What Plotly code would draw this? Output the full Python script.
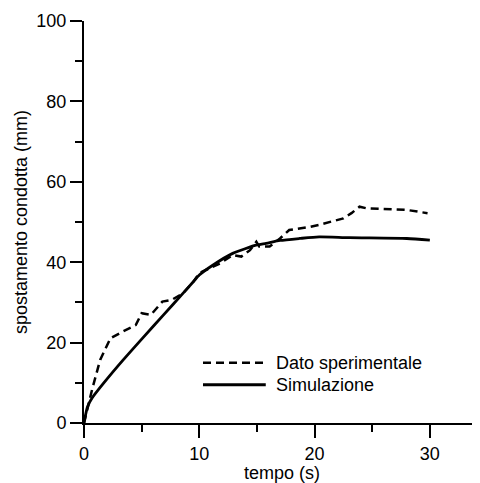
import plotly.graph_objects as go

# Data
t_exp = [0.0, 0.7, 1.4, 2.3, 3.4, 4.5, 5.0, 5.8, 6.8, 7.6, 8.6, 9.5, 10.0, 11.8, 12.9,
         13.65, 14.4, 14.95, 15.2, 16.1, 17.0, 17.8, 19.6, 20.4, 22.5, 23.2, 23.9, 24.5,
         28.0, 29.8]
d_exp = [0.0, 8.3, 15.7, 21.1, 22.8, 24.4, 27.3, 26.9, 30.2, 30.6, 32.3, 35.2, 37.3, 39.7,
         41.8, 41.4, 43.0, 45.1, 43.9, 43.9, 45.9, 48.0, 48.8, 49.3, 50.9, 52.2, 53.8, 53.4,
         53.0, 52.2]

t_sim = [0.0, 0.3, 0.7, 1.7, 3.4, 5.2, 6.9, 8.6, 9.5, 10.0, 11.2, 12.9, 15.0, 15.8, 17.0,
         18.7, 20.4, 23.0, 28.0, 30.0]
d_sim = [0.0, 4.0, 6.2, 9.9, 15.7, 21.5, 26.9, 32.3, 35.2, 36.8, 39.3, 42.2, 44.3, 44.7, 45.4,
         45.9, 46.3, 46.1, 45.9, 45.5]

names = ["Dato sperimentale", "Simulazione"]
x_ticks = [0, 10, 20, 30]
y_ticks = [0, 20, 40, 60, 80, 100]

FONT = "Liberation Sans, Arial, sans-serif"

fig = go.Figure()
fig.add_trace(go.Scatter(x=t_exp, y=d_exp, mode="lines", name=names[0],
                         line=dict(color="black", width=2.5, dash="8px,5px"),
                         showlegend=False, hoverinfo="skip"))
fig.add_trace(go.Scatter(x=t_sim, y=d_sim, mode="lines", name=names[1],
                         line=dict(color="black", width=2.8, shape="spline", smoothing=0.6),
                         showlegend=False, hoverinfo="skip"))

# manual legend (paper coordinates)
fig.add_shape(type="line", xref="paper", yref="paper", x0=0.3005, x1=0.457, y0=0.1498, y1=0.1498,
              line=dict(color="black", width=2.5, dash="8px,5px"))
fig.add_shape(type="line", xref="paper", yref="paper", x0=0.3005, x1=0.459, y0=0.0951, y1=0.0951,
              line=dict(color="black", width=2.8))
for yy, txt in zip([0.1498, 0.0951], names):
    fig.add_annotation(xref="paper", yref="paper", x=0.48, y=yy, text=txt, showarrow=False,
                       xanchor="left", yanchor="middle",
                       font=dict(family=FONT, size=18, color="black"))

fig.update_layout(
    width=472, height=475,
    margin=dict(l=76, r=0, t=13, b=60, autoexpand=False),
    paper_bgcolor="white", plot_bgcolor="white",
    font=dict(family=FONT, size=16, color="black"),
)
fig.update_xaxes(
    range=[0, 34.35], tickvals=x_ticks, ticktext=[str(v) for v in x_ticks],
    showline=True, linecolor="black", linewidth=2,
    ticks="outside", ticklen=13, tickwidth=2, tickcolor="black",
    minor=dict(dtick=5, tick0=0, ticks="outside", ticklen=7, tickwidth=2, tickcolor="black", showgrid=False),
    showgrid=False, zeroline=False, automargin=False,
    tickfont=dict(family=FONT, size=18),
    title=dict(text="tempo (s)", font=dict(family=FONT, size=18), standoff=0),
)
fig.update_yaxes(
    range=[0, 100], tickvals=y_ticks, ticktext=[str(v) for v in y_ticks],
    showline=True, linecolor="black", linewidth=2,
    ticks="outside", ticklen=12, tickwidth=2, tickcolor="black",
    minor=dict(dtick=10, tick0=0, ticks="outside", ticklen=7, tickwidth=2, tickcolor="black", showgrid=False),
    showgrid=False, zeroline=False, automargin=False,
    tickfont=dict(family=FONT, size=18),
    title=dict(text="spostamento condotta (mm)", font=dict(family=FONT, size=18), standoff=4),
)

fig.write_html("out.html", config={"displayModeBar": False})
